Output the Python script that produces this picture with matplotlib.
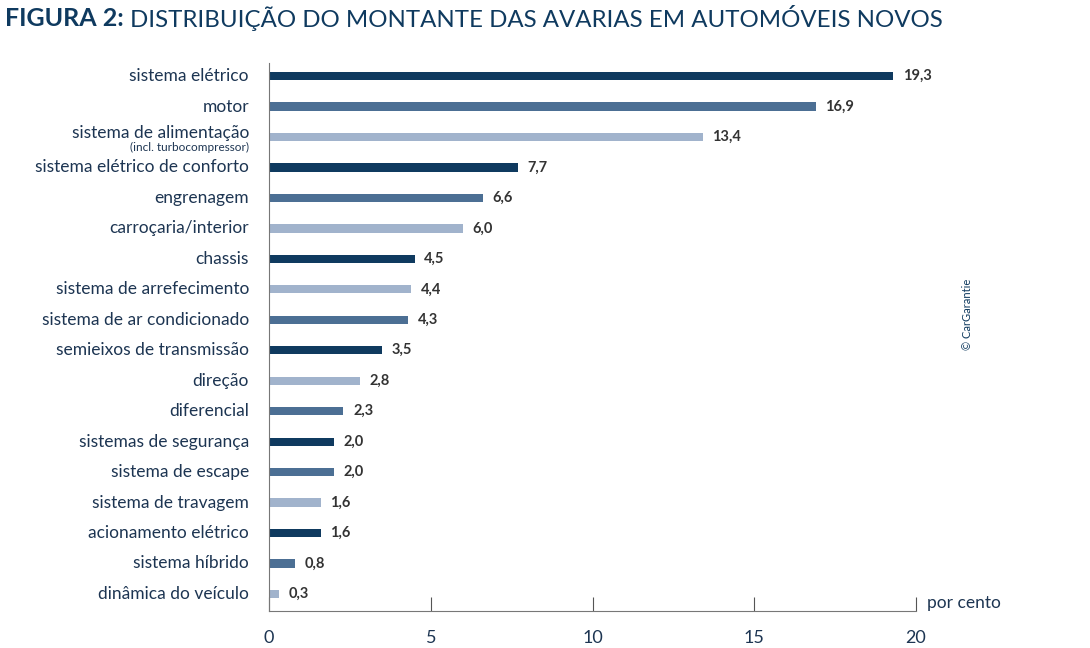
import matplotlib.pyplot as plt

categories = ['sistema elétrico', 'motor', 'sistema de alimentação',
              'sistema elétrico de conforto', 'engrenagem', 'carroçaria/interior',
              'chassis', 'sistema de arrefecimento', 'sistema de ar condicionado',
              'semieixos de transmissão', 'direção', 'diferencial',
              'sistemas de segurança', 'sistema de escape', 'sistema de travagem',
              'acionamento elétrico', 'sistema híbrido', 'dinâmica do veículo']
values = [19.3, 16.9, 13.4, 7.7, 6.6, 6.0, 4.5, 4.4, 4.3, 3.5, 2.8, 2.3,
          2.0, 2.0, 1.6, 1.6, 0.8, 0.3]
shade = ['d', 'm', 'l', 'd', 'm', 'l', 'd', 'l', 'm', 'd', 'l', 'm',
         'd', 'm', 'l', 'd', 'm', 'l']
xticks = [0, 5, 10, 15, 20]

palette = {'d': '#0f3a5f', 'm': '#4c6f94', 'l': '#a1b3cc'}
navy = '#0f3a5f'
text_col = '#1d3552'

plt.rcParams['font.family'] = ['Lato', 'DejaVu Sans']

fig = plt.figure(figsize=(10.9, 6.48), dpi=100)
ax = fig.add_axes([0.2468, 0.0571, 0.5936, 0.8457])

ypos = list(range(len(values)))
ax.barh(ypos, values, height=0.27, color=[palette[s] for s in shade])

# value labels
for y, v in zip(ypos, values):
    ax.text(v + 0.3, y, f'{v:.1f}'.replace('.', ','), va='center', ha='left',
            fontsize=10.5, fontweight='bold', color='#333333')

ax.set_ylim(len(values) - 0.44, -0.43)
ax.set_xlim(0, 20)
ax.set_yticks([])
# category labels (one has a small second line)
for y, lab in zip(ypos, categories):
    if lab == 'sistema de alimentação':
        ax.text(-0.62, y - 0.12, lab, ha='right', va='center', fontsize=12.5,
                color=text_col)
        ax.text(-0.62, y + 0.33, '(incl. turbocompressor)', ha='right', va='center',
                fontsize=8.5, color=text_col)
    else:
        ax.text(-0.62, y, lab, ha='right', va='center', fontsize=12.5,
                color=text_col)

ax.set_xticks(xticks)
ax.set_xticklabels([str(t) for t in xticks], fontsize=13, color=text_col)
ax.tick_params(axis='x', direction='in', length=10, width=0.8, color='#555555',
               pad=14)
for s in ['top', 'right']:
    ax.spines[s].set_visible(False)
for s in ['left', 'bottom']:
    ax.spines[s].set_color('#777777')
    ax.spines[s].set_linewidth(0.8)

ax.text(20.35, len(values) - 0.44, 'por cento', ha='left', va='bottom',
        fontsize=12.5, color=text_col)

t1 = fig.text(0.005, 0.972, 'FIGURA 2:', fontsize=18, fontweight='bold', color=navy,
              va='center', ha='left')
fig.canvas.draw()
bb = t1.get_window_extent()
fig.text((bb.x1 + 6) / fig.bbox.width, 0.972,
         'DISTRIBUIÇÃO DO MONTANTE DAS AVARIAS EM AUTOMÓVEIS NOVOS',
         fontsize=17.3, color=navy, va='center', ha='left')
fig.text(0.888, 0.515, '© CarGarantie', fontsize=8, color=navy, rotation=90,
         va='center', ha='center')

fig.savefig('out.png', dpi=100)
